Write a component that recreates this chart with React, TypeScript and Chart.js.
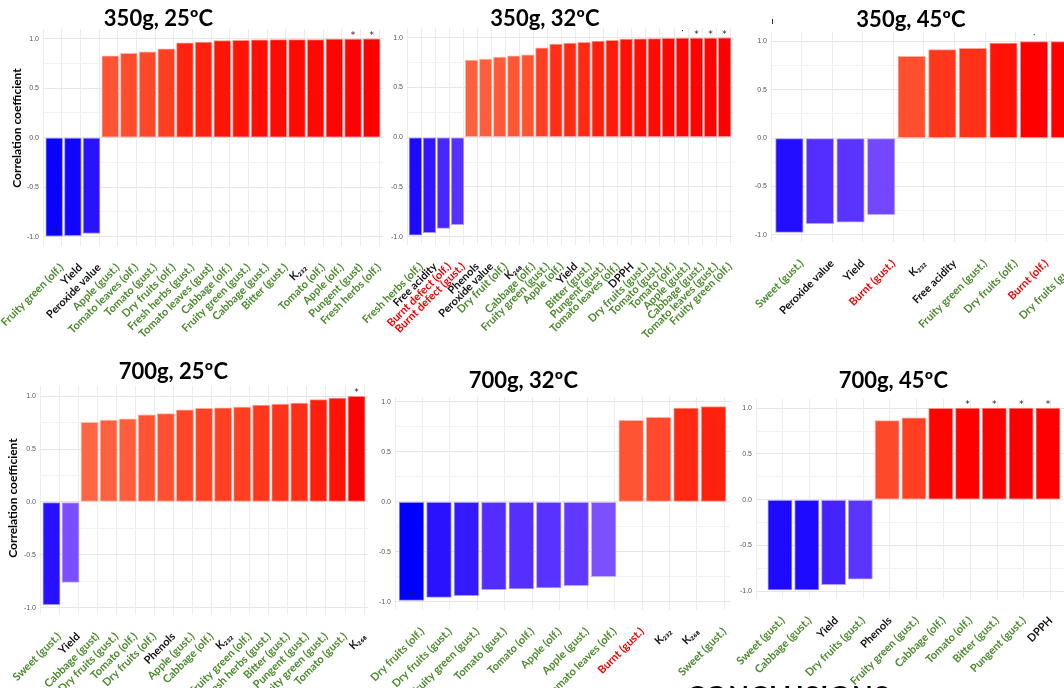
import React, { useEffect, useRef } from "react";
import { Chart, registerables } from "chart.js";
Chart.register(...registerables);

const LABEL_FONT = "Lato, 'Open Sans', 'Noto Sans', sans-serif";
const TICK_FONT = "'Liberation Sans', Arial, sans-serif";

// ---------- data ----------
const P1_LABELS = ["Fruity green (olf.)", "Yield", "Peroxide value", "Apple (gust.)", "Tomato leaves (olf.)", "Tomato (gust.)", "Dry fruits (olf.)", "Fresh herbs (gust.)", "Tomato leaves (gust)", "Cabbage (olf.)", "Fruity green (gust.)", "Cabbage (gust.)", "Bitter (gust.)", "K₂₃₂", "Tomato (olf.)", "Apple (olf.)", "Pungent (gust)", "Fresh herbs (olf.)"];
const P1_VALUES = [-0.995, -0.99, -0.968, 0.826, 0.853, 0.867, 0.897, 0.958, 0.965, 0.981, 0.982, 0.988, 0.99, 0.991, 0.992, 0.995, 0.997, 0.998];
const P1_SIG = ["*", "", "", "", "", "", "", "", "", "", "", "", "", "", "", "", "*", "*"];

const P2_LABELS = ["Fresh herbs (olf.)", "Free acidity", "Burnt defect (olf.)", "Burnt defect (gust.)", "Phenols", "Peroxide value", "Dry fruit (olf.)", "K₂₆₈", "Cabbage (olf.)", "Fruity green (gust.)", "Apple (olf.)", "Yield", "Bitter (gust.)", "Pungent (gust.)", "Tomato leaves (olf.)", "DPPH", "Dry fruits (gust.)", "Tomato (gust.)", "Tomato (olf.)", "Apple (gust.)", "Cabbage (gust.)", "Tomato leaves (gust.)", "Fruity green (olf.)"];
const P2_VALUES = [-0.985, -0.961, -0.917, -0.88, 0.776, 0.786, 0.806, 0.82, 0.83, 0.9, 0.938, 0.948, 0.954, 0.968, 0.975, 0.988, 0.99, 0.992, 0.995, 0.997, 0.998, 0.999, 1.0];
const P2_SIG = ["", "", "", "", "", "", "", "", "", "", "", "", "", "", "", "", "", "", "", ".", "*", "*", "*"];

const P3_LABELS = ["Sweet (gust.)", "Peroxide value", "Yield", "Burnt (gust.)", "K₂₃₂", "Free acidity", "Fruity green (gust.)", "Dry fruits (olf.)", "Burnt (olf.)", "Dry fruits (gust.)"];
const P3_VALUES = [-0.977, -0.887, -0.87, -0.793, 0.845, 0.915, 0.929, 0.984, 0.999, 0.999];
const P3_SIG = ["", "", "", "", "", "", "", "", ".", "."];

const P4_LABELS = ["Sweet (gust.)", "Yield", "Cabbage (gust)", "Dry fruits (gust.)", "Tomato (olf.)", "Dry fruits (olf.)", "Phenols", "Apple (gust.)", "Cabbage (olf.)", "K₂₃₂", "Fruity green (olf.)", "Fresh herbs (gust.)", "Bitter (gust.)", "Pungent (gust.)", "Fruity green (gust.)", "Tomato (gust.)", "K₂₆₈"];
const P4_VALUES = [-0.97, -0.76, 0.753, 0.775, 0.787, 0.825, 0.835, 0.872, 0.885, 0.891, 0.898, 0.917, 0.926, 0.935, 0.967, 0.983, 0.998];
const P4_SIG = ["", "", "", "", "", "", "", "", "", "", "", "", "", "", "", "", "*"];

const P5_LABELS = ["Dry fruits (olf.)", "Dry fruits (gust.)", "Fruity green (gust.)", "Tomato (gust.)", "Tomato (olf.)", "Apple (olf.)", "Apple (gust.)", "Tomato leaves (olf.)", "Burnt (gust.)", "K₂₃₂", "K₂₆₈", "Sweet (gust.)"];
const P5_VALUES = [-0.987, -0.957, -0.94, -0.88, -0.873, -0.863, -0.84, -0.75, 0.817, 0.847, 0.94, 0.953];
const P5_SIG = ["*", "", "", "", "", "", "", "", "", "", "", ""];

const P6_LABELS = ["Sweet (gust.)", "Cabbage (gust.)", "Yield", "Dry fruits (gust.)", "Phenols", "Fruity green (gust.)", "Cabbage (olf.)", "Tomato (olf.)", "Bitter (gust.)", "Pungent (gust.)", "DPPH"];
const P6_VALUES = [-0.984, -0.984, -0.926, -0.868, 0.864, 0.893, 0.998, 1.0, 1.0, 1.0, 1.0];
const P6_SIG = ["", "", "", "", "", "", "", "*", "*", "*", "*"];

const Y_TITLE = "Correlation coefficient";

// ---------- styling helpers ----------
const CHEMICAL = new Set(["Yield", "Peroxide value", "Free acidity", "Phenols", "DPPH", "K₂₃₂", "K₂₆₈"]);
function labelColor(l: string) {
  if (l.startsWith("Burnt")) return "#f50000";
  if (CHEMICAL.has(l)) return "#111111";
  return "#4b8a2d";
}

function toLin(c: number) { c /= 255; return c <= 0.04045 ? c / 12.92 : Math.pow((c + 0.055) / 1.055, 2.4); }
function fromLin(c: number) {
  const v = c <= 0.0031308 ? 12.92 * c : 1.055 * Math.pow(Math.max(c, 0), 1 / 2.4) - 0.055;
  return Math.max(0, Math.min(255, Math.round(v * 255)));
}
function rgbToLab(rgb: number[]) {
  const R = toLin(rgb[0]), G = toLin(rgb[1]), B = toLin(rgb[2]);
  const X = (0.4124 * R + 0.3576 * G + 0.1805 * B) / 0.95047;
  const Y = 0.2126 * R + 0.7152 * G + 0.0722 * B;
  const Z = (0.0193 * R + 0.1192 * G + 0.9505 * B) / 1.08883;
  const f = (t: number) => (t > 0.008856 ? Math.cbrt(t) : 7.787 * t + 16 / 116);
  const fx = f(X), fy = f(Y), fz = f(Z);
  return [116 * fy - 16, 500 * (fx - fy), 200 * (fy - fz)];
}
function labToRgb(lab: number[]) {
  const fy = (lab[0] + 16) / 116, fx = fy + lab[1] / 500, fz = fy - lab[2] / 200;
  const inv = (t: number) => (t * t * t > 0.008856 ? t * t * t : (t - 16 / 116) / 7.787);
  const X = inv(fx) * 0.95047, Y = inv(fy), Z = inv(fz) * 1.08883;
  const R = 3.2406 * X - 1.5372 * Y - 0.4986 * Z;
  const G = -0.9689 * X + 1.8758 * Y + 0.0415 * Z;
  const B = 0.0557 * X - 0.204 * Y + 1.057 * Z;
  return [fromLin(R), fromLin(G), fromLin(B)];
}
const WHITE_LAB = rgbToLab([255, 255, 255]);
const RED_LAB = rgbToLab([255, 0, 0]);
const BLUE_LAB = rgbToLab([0, 0, 255]);
function fillRgb(v: number, maxAbs: number) {
  const t = Math.min(1, Math.abs(v) / maxAbs);
  const end = v >= 0 ? RED_LAB : BLUE_LAB;
  return labToRgb(WHITE_LAB.map((w, k) => w + (end[k] - w) * t));
}
const css = (c: number[]) => `rgb(${c[0]},${c[1]},${c[2]})`;
const lighten = (c: number[], f: number) => c.map((x) => Math.round(x + (255 - x) * f));
const isMajor = (v: number) => Math.abs(v * 2 - Math.round(v * 2)) < 1e-6;

type Geom = { left: number; right: number; firstC: number; lastC: number; y1: number; ym1: number };
type PanelDef = {
  title: string; labels: string[]; values: number[]; sig: string[]; geom: Geom;
  titleX: number; titleTop: number; yTitle?: { x: number; y: number };
};

const PANELS: PanelDef[] = [
  { title: "350g, 25ºC", labels: P1_LABELS, values: P1_VALUES, sig: P1_SIG,
    geom: { left: 42.8, right: 383, firstC: 54, lastC: 371.7, y1: 38.5, ym1: 236.5 },
    titleX: 158.5, titleTop: 6.5, yTitle: { x: 16.7, y: 128 } },
  { title: "350g, 32ºC", labels: P2_LABELS, values: P2_VALUES, sig: P2_SIG,
    geom: { left: 407.4, right: 733.2, firstC: 415.8, lastC: 724.8, y1: 38.3, ym1: 236.2 },
    titleX: 545, titleTop: 6.5 },
  { title: "350g, 45ºC", labels: P3_LABELS, values: P3_VALUES, sig: P3_SIG,
    geom: { left: 771.2, right: 1082.5, firstC: 789.5, lastC: 1064.2, y1: 41.2, ym1: 234.3 },
    titleX: 911, titleTop: 7.5 },
  { title: "700g, 25ºC", labels: P4_LABELS, values: P4_VALUES, sig: P4_SIG,
    geom: { left: 39.7, right: 368.3, firstC: 51.2, lastC: 356.8, y1: 396, ym1: 608 },
    titleX: 173.3, titleTop: 360, yTitle: { x: 13.3, y: 497.5 } },
  { title: "700g, 32ºC", labels: P5_LABELS, values: P5_VALUES, sig: P5_SIG,
    geom: { left: 394.7, right: 729.7, firstC: 411.2, lastC: 713.2, y1: 401.7, ym1: 601.7 },
    titleX: 523.3, titleTop: 368.5 },
  { title: "700g, 45ºC", labels: P6_LABELS, values: P6_VALUES, sig: P6_SIG,
    geom: { left: 756, right: 1064.4, firstC: 780, lastC: 1048.3, y1: 407.7, ym1: 591.3 },
    titleX: 893.3, titleTop: 369 },
];

const YW = 110;
const PT = 14;
const XH = 130;

function BarPanel({ labels, values, sig, geom }: PanelDef) {
  const ref = useRef<HTMLCanvasElement>(null);
  const n = labels.length;
  const dmin = Math.min(0, ...values), dmax = Math.max(0, ...values);
  const ext = 0.05 * (dmax - dmin);
  const ymin = dmin - ext, ymax = dmax + ext;
  const unit = (geom.ym1 - geom.y1) / 2;
  const areaTop = geom.y1 - (ymax - 1) * unit;
  const areaBottom = geom.ym1 + (-1 - ymin) * unit;
  const s = (geom.lastC - geom.firstC) / (n - 1);
  const xmin = -(geom.firstC - geom.left) / s;
  const xmax = n - 1 + (geom.right - geom.lastC) / s;
  const canvasLeft = Math.round(geom.left) - YW;
  const canvasTop = Math.round(areaTop) - PT;
  const W = Math.round(geom.right) - canvasLeft;
  const H = Math.round(areaBottom) + XH - canvasTop;
  const barPx = s * 0.9;

  useEffect(() => {
    if (!ref.current) return;
    const maxAbs = Math.max(...values.map((v) => Math.abs(v)));
    const fills = values.map((v) => fillRgb(v, maxAbs));
    const sigPlugin = {
      id: "sigMarks",
      afterDatasetsDraw(chart: any) {
        const { ctx, scales } = chart;
        ctx.save();
        ctx.fillStyle = "#222";
        ctx.textAlign = "center";
        ctx.textBaseline = "alphabetic";
        ctx.font = "9px 'DejaVu Sans', sans-serif";
        sig.forEach((m, i) => {
          if (!m) return;
          const px = scales.x.getPixelForValue(i);
          const py = scales.y.getPixelForValue(values[i]);
          if (m === ".") ctx.fillText("·", px, py - 4);
          else ctx.fillText("*", px, py - 1);
        });
        ctx.restore();
      },
    };
    const chart = new Chart(ref.current, {
      type: "bar",
      data: {
        datasets: [
          {
            data: values.map((v, i) => ({ x: i, y: v })),
            backgroundColor: fills.map(css),
            borderColor: fills.map((c) => css(lighten(c, 0.55))),
            borderWidth: 1,
            borderSkipped: false,
            barThickness: barPx,
          } as any,
        ],
      },
      options: {
        animation: false,
        responsive: false,
        maintainAspectRatio: false,
        devicePixelRatio: 1,
        events: [],
        layout: { padding: { top: PT, left: 0, right: 0, bottom: 0 } },
        plugins: { legend: { display: false }, tooltip: { enabled: false } },
        scales: {
          x: {
            type: "linear",
            min: xmin,
            max: xmax,
            bounds: "data",
            offset: false,
            grid: { color: "#ececec", drawTicks: false, offset: false, lineWidth: 1 },
            border: { display: false },
            ticks: {
              stepSize: 1,
              includeBounds: false,
              autoSkip: false,
              maxRotation: 45,
              minRotation: 45,
              padding: 15,
              font: { family: LABEL_FONT, size: 11, weight: "bold" },
              color: (ctx: any) => labelColor(labels[Math.round(ctx.tick ? ctx.tick.value : -1)] || ""),
              callback: (v: any) => labels[Math.round(Number(v))] || "",
            },
            afterFit: (sc: any) => { sc.height = XH; sc.paddingLeft = 0; sc.paddingRight = 0; },
          } as any,
          y: {
            type: "linear",
            min: ymin,
            max: ymax,
            grid: {
              color: (ctx: any) => (ctx.tick && isMajor(ctx.tick.value) ? "#e6e6e6" : "#f3f3f3"),
              drawTicks: false,
            },
            border: { display: false },
            ticks: {
              stepSize: 0.25,
              includeBounds: false,
              padding: 4,
              font: { family: TICK_FONT, size: 7 },
              color: "#555555",
              callback: (v: any) => {
                const n2 = Number(v);
                if (!isMajor(n2)) return "";
                return Math.abs(n2) < 1e-9 ? "0.0" : n2.toFixed(1);
              },
            },
            afterFit: (sc: any) => { sc.width = YW; sc.paddingTop = 0; sc.paddingBottom = 0; },
          } as any,
        },
      },
      plugins: [sigPlugin],
    });
    return () => chart.destroy();
  }, []);

  return (
    <canvas
      ref={ref}
      width={W}
      height={H}
      style={{ position: "absolute", left: canvasLeft, top: canvasTop, width: W, height: H }}
    />
  );
}

export default function App() {
  return (
    <div
      style={{
        position: "absolute", left: 0, top: 0, width: 1064, height: 688,
        overflow: "hidden", background: "#ffffff", fontFamily: LABEL_FONT,
      }}
    >
      {PANELS.map((p) => (
        <BarPanel key={p.title} {...p} />
      ))}
      {PANELS.map((p) => (
        <div
          key={p.title + "-t"}
          style={{
            position: "absolute", left: p.titleX, top: p.titleTop, transform: "translateX(-50%)",
            font: `bold 22px/1 ${LABEL_FONT}`, whiteSpace: "nowrap", color: "#000",
          }}
        >
          {p.title}
        </div>
      ))}
      {PANELS.filter((p) => p.yTitle).map((p) => (
        <div
          key={p.title + "-y"}
          style={{
            position: "absolute", left: p.yTitle!.x, top: p.yTitle!.y,
            transform: "translate(-50%, -50%) rotate(-90deg)",
            font: `bold 12px/1 ${LABEL_FONT}`, whiteSpace: "nowrap", color: "#000",
          }}
        >
          {Y_TITLE}
        </div>
      ))}
      <div style={{ position: "absolute", left: 772, top: 19, width: 1, height: 5, background: "#333" }} />
      <div
        style={{
          position: "absolute", left: 687, top: 681, font: `bold 27px/1 ${LABEL_FONT}`,
          letterSpacing: "1px", color: "#000", whiteSpace: "nowrap",
        }}
      >
        CONCLUSIONS
      </div>
    </div>
  );
}
